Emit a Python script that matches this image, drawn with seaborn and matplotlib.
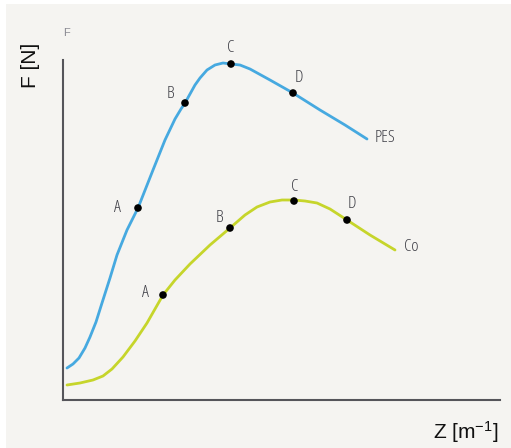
import numpy as np
import pandas as pd
import seaborn as sns
import matplotlib.pyplot as plt
from matplotlib.patches import Rectangle

# curve traces (x = Z, y = F, arbitrary units)
pes_x = [4, 10, 16, 22, 27, 33, 39, 47, 54, 60, 64, 75, 90, 102, 112, 118, 122, 127,
         132, 137, 144, 152, 160, 168, 177, 187, 207, 230, 257, 282, 304]
pes_y = [32, 36, 42, 52, 63, 78, 97, 122, 145, 160, 170, 192, 230, 260, 281, 291,
         297, 306, 315, 322, 330, 335, 337, 336, 335, 331, 320, 307, 290, 275, 261]
co_x = [4, 17, 30, 40, 49, 60, 72, 84, 100, 112, 127, 147, 167, 182, 194, 207, 219,
        231, 242, 254, 267, 284, 307, 332]
co_y = [15, 17, 20, 24, 31, 43, 59, 77, 105, 120, 136, 155, 172, 185, 193, 198, 200,
        200, 199, 197, 191, 180, 165, 150]

pes_pts = ["A", "B", "C", "D"]
pes_px = [75, 122, 168, 230]
pes_py = [192, 297, 336, 307]
co_pts = ["A", "B", "C", "D"]
co_px = [100, 167, 231, 284]
co_py = [105, 172, 199, 180]

sns.set_style("white")
plt.rcParams["font.family"] = ["Liberation Sans", "DejaVu Sans"]
plt.rcParams["mathtext.default"] = "regular"

fig = plt.figure(figsize=(5.11, 4.48), dpi=100)
fig.patch.set_facecolor("white")
fig.patches.append(Rectangle((6 / 511, 0), 1, 1 - 4 / 448, transform=fig.transFigure,
                             facecolor="#f5f4f1", edgecolor="none", zorder=-10))
ax = fig.add_axes([63 / 511, 48 / 448, 437 / 511, 340 / 448])
ax.set_facecolor("none")

blue = "#46a9e0"
green = "#c6d52b"
sns.lineplot(x=pes_x, y=pes_y, color=blue, lw=2, sort=False, ax=ax)
sns.lineplot(x=co_x, y=co_y, color=green, lw=2, sort=False, ax=ax)
sns.scatterplot(x=pes_px, y=pes_py, color="black", s=30, edgecolor="none", ax=ax, zorder=5)
sns.scatterplot(x=co_px, y=co_py, color="black", s=30, edgecolor="none", ax=ax, zorder=5)

txt = dict(color="#3e3e46", fontsize=12.5, family=["Open Sans", "DejaVu Sans"],
           fontstretch="condensed")
pes_off = [(-21, 0), (-15, 9), (0, 16), (6, 15)]
co_off = [(-18, 2), (-11, 10), (1, 14), (5, 16)]
for lab, x, y, (dx, dy) in zip(pes_pts, pes_px, pes_py, pes_off):
    ax.text(x + dx, y + dy, lab, ha="center", va="center", **txt)
for lab, x, y, (dx, dy) in zip(co_pts, co_px, co_py, co_off):
    ax.text(x + dx, y + dy, lab, ha="center", va="center", **txt)
ax.text(312, 262, "PES", ha="left", va="center", **txt)
ax.text(341, 153, "Co", ha="left", va="center", **txt)

ax.set_xlim(0, 437)
ax.set_ylim(0, 340)
ax.set_xticks([])
ax.set_yticks([])
for side in ["top", "right"]:
    ax.spines[side].set_visible(False)
for side in ["left", "bottom"]:
    ax.spines[side].set_color("#55555a")
    ax.spines[side].set_linewidth(1.5)

fig.text(66 / 511, 1 - 33 / 448, "F", color="#8a8a92", fontsize=8, ha="center", va="center")
fig.text(30 / 511, 1 - 65 / 448, "F [N]", rotation=90, fontsize=15, color="#111111",
         ha="center", va="center")
fig.text(466 / 511, 1 - 432 / 448, "Z [m$^{-1}$]", fontsize=15, color="#111111",
         ha="center", va="center")

fig.savefig("out.png", dpi=100)
